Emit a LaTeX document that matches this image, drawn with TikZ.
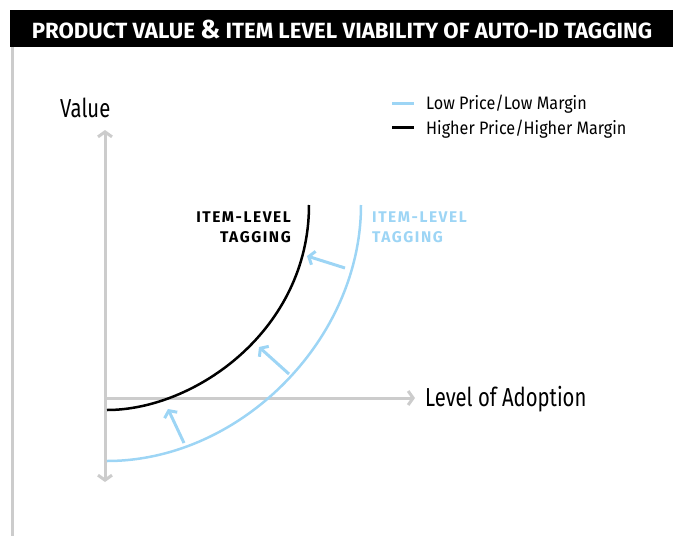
\documentclass[tikz,border=0pt]{standalone}
\usepackage{fontspec}
\setmainfont{Fira Sans}
\newfontfamily\labelfont{Fira Sans}[FakeStretch=0.78]
\newfontfamily\legendfont{Fira Sans}[FakeStretch=0.9]
\newfontfamily\titlefont{Fira Sans}[FakeStretch=1.01]
\newfontfamily\tagfont{Fira Sans}[LetterSpace=10]
\usetikzlibrary{arrows.meta}
\definecolor{axisgray}{HTML}{CCCCCC}
\definecolor{lowblue}{HTML}{9DD5F5}
\tikzset{
  axisline/.style={draw=axisgray, line width=3pt},
  barb/.style={-{Straight Barb[length=5pt,width=14pt]}},
  curveline/.style={line width=2.5pt},
  shiftarrow/.style={draw=lowblue, line width=3pt, -{Straight Barb[length=5pt,width=14pt]}},
  label/.style={font=\labelfont\fontsize{26}{28}\selectfont, inner sep=0pt, anchor=base west},
  legendtext/.style={font=\legendfont\fontsize{18}{20}\selectfont, inner sep=0pt, anchor=base west},
  tagtext/.style={font=\tagfont\bfseries\fontsize{15.5}{20}\selectfont, inner sep=0pt},
}
\begin{document}
\begin{tikzpicture}[x=1pt,y=-1pt]
\useasboundingbox (0,0) rectangle (673,536);
% title bar
\fill[black] (10,10) rectangle (673,47);
\node[text=white, font=\titlefont\bfseries\fontsize{22}{22}\selectfont, inner sep=0pt] (title) at (342,29) {PRODUCT VALUE {\fontsize{26}{26}\selectfont\&} ITEM LEVEL VIABILITY OF AUTO-ID TAGGING};
% left rule
\draw[axisline] (12.5,47) -- (12.5,536);

% axes
\coordinate (origin) at (105,398);
\coordinate (ytop) at (105,130);
\coordinate (ybot) at (105,482);
\coordinate (xend) at (415,398);
\draw[axisline, {Straight Barb[length=5pt,width=14pt]}-{Straight Barb[length=5pt,width=14pt]}] (ybot) -- (ytop);
\draw[axisline, barb] (origin) -- (xend);
\node[label] (value) at (60,117) {Value};
\node[label] (adoption) at (425,406) {Level of Adoption};

% legend
\coordinate (lowA) at (392,103);
\coordinate (lowB) at (414,103);
\coordinate (highA) at (392,127);
\coordinate (highB) at (414,127);
\draw[lowblue, line width=3pt] (lowA) -- (lowB);
\draw[black, line width=3pt] (highA) -- (highB);
\node[legendtext] (lowtext) at (426,109) {Low Price/Low Margin};
\node[legendtext] (hightext) at (426,134) {Higher Price/Higher Margin};

% curves
\coordinate (hiStart) at (107,410);
\coordinate (hiEnd) at (309,205);
\coordinate (loStart) at (107,461);
\coordinate (loEnd) at (361,205);
\draw[curveline, black] (hiStart) .. controls (195,410) and (309,330) .. (hiEnd);
\draw[curveline, lowblue] (loStart) .. controls (240,461) and (361,340) .. (loEnd);

% shift arrows
\coordinate (s1) at (184,443);
\coordinate (e1) at (168,409);
\coordinate (s2) at (289,374);
\coordinate (e2) at (259,347);
\coordinate (s3) at (345,268);
\coordinate (e3) at (307,256);
\draw[shiftarrow] (s1) -- (e1);
\draw[shiftarrow] (s2) -- (e2);
\draw[shiftarrow] (s3) -- (e3);

% curve labels
\node[tagtext, text=black, align=right, anchor=north east] (hitag) at (291,212) {ITEM-LEVEL\\TAGGING};
\node[tagtext, text=lowblue, align=left, anchor=north west] (lotag) at (372,212) {ITEM-LEVEL\\TAGGING};
\end{tikzpicture}
\end{document}
